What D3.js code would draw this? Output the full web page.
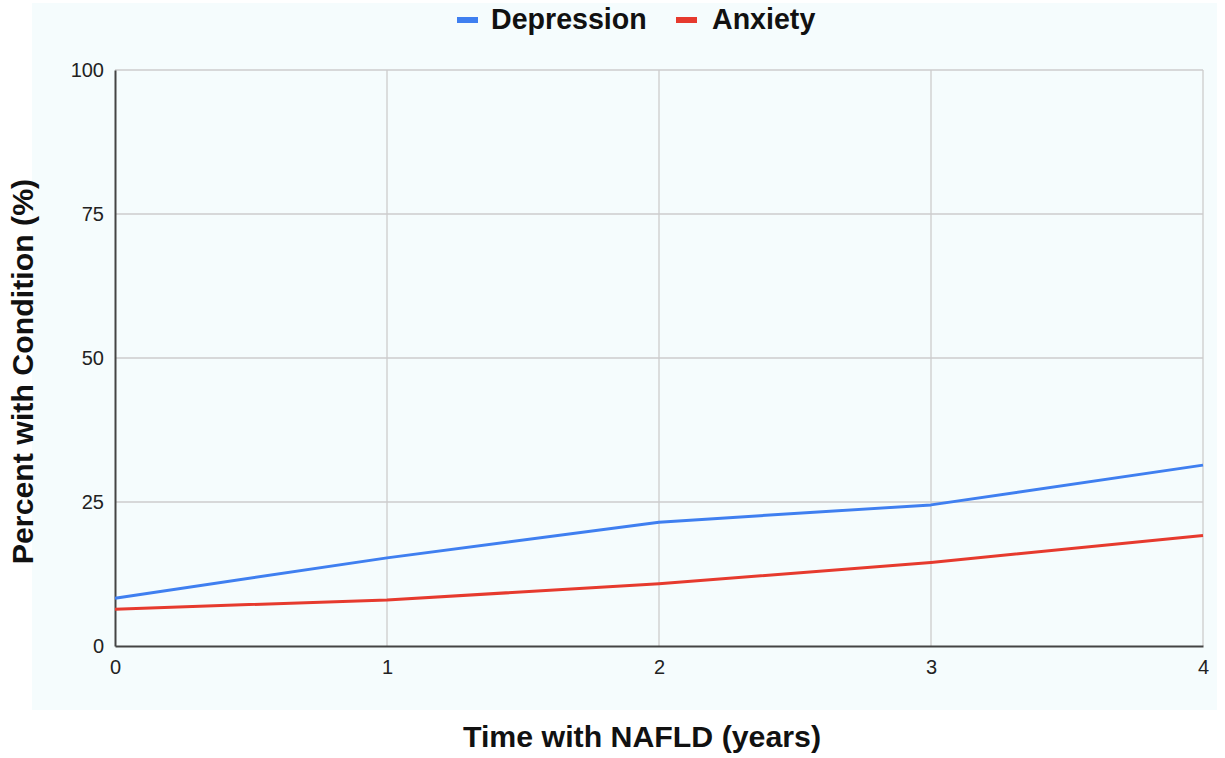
<!DOCTYPE html>
<html><head><meta charset="utf-8">
<script src="https://cdn.jsdelivr.net/npm/d3@7"></script>
<style>html,body{margin:0;padding:0;background:#fff;}svg{display:block;}</style>
</head><body>
<svg id="chart" width="1225" height="758"></svg>
<script>
const years = [0, 1, 2, 3, 4];
const depression = [8.3, 15.3, 21.5, 24.5, 31.4];
const anxiety = [6.4, 8.0, 10.8, 14.5, 19.2];
const yTicks = [0, 25, 50, 75, 100];
const xTicks = [0, 1, 2, 3, 4];
const seriesNames = ["Depression", "Anxiety"];
const seriesColors = ["#3f7ff0", "#e63a2e"];

const FONT = "Liberation Sans, Arial, Helvetica, sans-serif";
const svg = d3.select("#chart");
svg.append("rect").attr("x", 32).attr("y", 3).attr("width", 1185).attr("height", 707).attr("fill", "#f5fcfd");

const m = {left: 115, right: 1203, top: 70, bottom: 646};
const x = d3.scaleLinear().domain([0, 4]).range([m.left, m.right]);
const y = d3.scaleLinear().domain([0, 100]).range([m.bottom, m.top]);

// gridlines
const g = svg.append("g");
g.selectAll("line.h").data(yTicks.filter(d => d > 0)).join("line")
  .attr("x1", m.left).attr("x2", m.right).attr("y1", d => y(d)).attr("y2", d => y(d))
  .attr("stroke", "#cccccc").attr("stroke-width", 1.3);
g.selectAll("line.v").data(xTicks.filter(d => d > 0)).join("line")
  .attr("y1", m.top).attr("y2", m.bottom).attr("x1", d => x(d)).attr("x2", d => x(d))
  .attr("stroke", "#cccccc").attr("stroke-width", 1.3);

// axes
const yAxis = d3.axisLeft(y).tickValues(yTicks).tickSize(0).tickPadding(11).tickFormat(d3.format("d"));
const xAxis = d3.axisBottom(x).tickValues(xTicks).tickSize(0).tickPadding(14).tickFormat(d3.format("d"));
const ya = svg.append("g").attr("transform", `translate(${m.left},0)`).call(yAxis);
const xa = svg.append("g").attr("transform", `translate(0,${m.bottom})`).call(xAxis);
[ya, xa].forEach(a => {
  a.select(".domain").attr("stroke", "#444").attr("stroke-width", 2);
  a.selectAll("text").attr("font-family", FONT).attr("font-size", 20).attr("fill", "#222");
});
ya.selectAll("text").attr("dy", "0.34em");

// lines
const line = d3.line().x((d, i) => x(years[i])).y(d => y(d));
[depression, anxiety].forEach((s, i) => {
  svg.append("path").datum(s).attr("d", line).attr("fill", "none")
    .attr("stroke", seriesColors[i]).attr("stroke-width", 3).attr("stroke-linejoin", "round");
});

// legend
const legendPos = [[457, 491], [676, 712]];
seriesNames.forEach((n, i) => {
  svg.append("rect").attr("x", legendPos[i][0]).attr("y", 17).attr("width", 21).attr("height", 6).attr("fill", seriesColors[i]);
  svg.append("text").attr("x", legendPos[i][1]).attr("y", 28.5).text(n)
    .attr("font-family", FONT).attr("font-weight", "bold").attr("font-size", 28.6).attr("fill", "#111");
});

// axis titles
svg.append("text").attr("x", 642).attr("y", 747).attr("text-anchor", "middle")
  .attr("font-family", FONT).attr("font-weight", "bold").attr("font-size", 30.3).attr("fill", "#111")
  .text("Time with NAFLD (years)");
svg.append("text").attr("transform", "translate(33,371.5) rotate(-90)").attr("text-anchor", "middle")
  .attr("font-family", FONT).attr("font-weight", "bold").attr("font-size", 30.3).attr("fill", "#111")
  .text("Percent with Condition (%)");
</script>
</body></html>
